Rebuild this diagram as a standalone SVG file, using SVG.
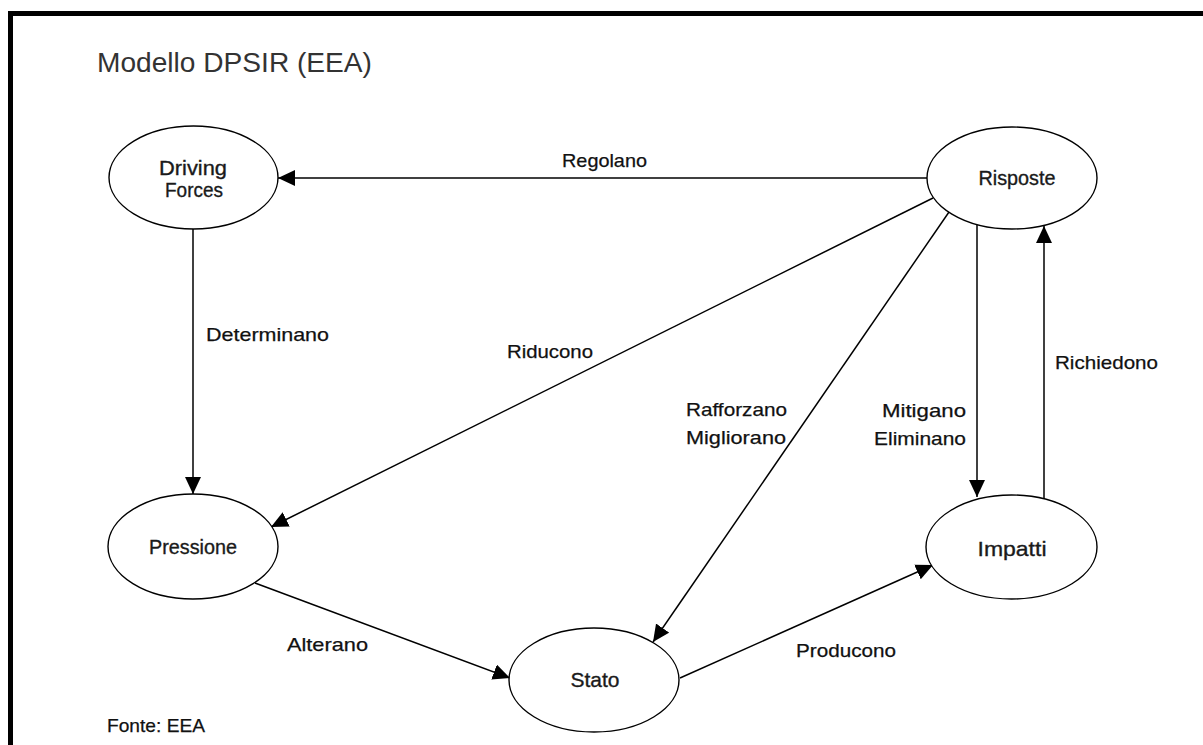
<svg xmlns="http://www.w3.org/2000/svg" width="1203" height="745" viewBox="0 0 1203 745">
<style>
.node ellipse{fill:#fff;stroke:#000;stroke-width:1.4}
.nl{font-family:"Liberation Sans",Arial,sans-serif;font-size:21px;fill:#1a1a1a;stroke:#1a1a1a;stroke-width:0.35;text-anchor:middle}
.el{font-family:"Liberation Sans",Arial,sans-serif;font-size:19px;fill:#111;stroke:#111;stroke-width:0.25}
.conn line{stroke:#000;stroke-width:1.5;marker-end:url(#ah)}
</style>
<defs>
<marker id="ah" markerUnits="userSpaceOnUse" markerWidth="19" markerHeight="17" refX="17" refY="8" orient="auto">
<path d="M0,0 L17,8 L0,16 Z" fill="#000"/>
</marker>
</defs>
<rect x="0" y="0" width="1203" height="745" fill="#fff"/>
<rect x="10.5" y="13.5" width="1300" height="800" fill="none" stroke="#000" stroke-width="5"/>
<text x="97" y="72" font-family="'Liberation Sans',Arial,sans-serif" font-size="28" fill="#333" textLength="275" lengthAdjust="spacingAndGlyphs">Modello DPSIR (EEA)</text>
<text class="el" x="107" y="732" textLength="98" lengthAdjust="spacingAndGlyphs">Fonte: EEA</text>

<g class="conn">
<line x1="927" y1="178" x2="278" y2="178"/>
<line x1="193" y1="229" x2="193" y2="494"/>
<line x1="933" y1="198" x2="271" y2="527"/>
<line x1="949" y1="212" x2="653" y2="642"/>
<line x1="977" y1="225" x2="977" y2="497"/>
<line x1="1044" y1="499" x2="1044" y2="226"/>
<line x1="255" y1="583" x2="510" y2="678"/>
<line x1="680" y1="678" x2="933" y2="565"/>
</g>

<g id="edge-labels">
<text class="el" x="562" y="167" textLength="85" lengthAdjust="spacingAndGlyphs">Regolano</text>
<text class="el" x="206" y="341" textLength="123" lengthAdjust="spacingAndGlyphs">Determinano</text>
<text class="el" x="507" y="358" textLength="86" lengthAdjust="spacingAndGlyphs">Riducono</text>
<text class="el" x="686" y="416" textLength="101" lengthAdjust="spacingAndGlyphs">Rafforzano</text>
<text class="el" x="686" y="444" textLength="100" lengthAdjust="spacingAndGlyphs">Migliorano</text>
<text class="el" x="882" y="417" textLength="84" lengthAdjust="spacingAndGlyphs">Mitigano</text>
<text class="el" x="874" y="445" textLength="92" lengthAdjust="spacingAndGlyphs">Eliminano</text>
<text class="el" x="1055" y="369" textLength="103" lengthAdjust="spacingAndGlyphs">Richiedono</text>
<text class="el" x="287" y="651" textLength="81" lengthAdjust="spacingAndGlyphs">Alterano</text>
<text class="el" x="796" y="657" textLength="100" lengthAdjust="spacingAndGlyphs">Producono</text>
</g>

<g id="driving-forces" class="node">
<ellipse cx="193.5" cy="177.5" rx="84.5" ry="51.5"/>
<text class="nl" x="193" y="175" textLength="68" lengthAdjust="spacingAndGlyphs">Driving</text>
<text class="nl" x="194" y="197" textLength="58" lengthAdjust="spacingAndGlyphs">Forces</text>
</g>
<g id="risposte" class="node">
<ellipse cx="1012" cy="178" rx="85" ry="51"/>
<text class="nl" x="1017" y="185" textLength="77" lengthAdjust="spacingAndGlyphs">Risposte</text>
</g>
<g id="pressione" class="node">
<ellipse cx="193" cy="546.5" rx="85" ry="52.5"/>
<text class="nl" x="193" y="554" textLength="88" lengthAdjust="spacingAndGlyphs">Pressione</text>
</g>
<g id="impatti" class="node">
<ellipse cx="1011.5" cy="547" rx="85.5" ry="52"/>
<text class="nl" x="1012" y="556" textLength="69" lengthAdjust="spacingAndGlyphs">Impatti</text>
</g>
<g id="stato" class="node">
<ellipse cx="594" cy="680" rx="85" ry="52"/>
<text class="nl" x="595" y="687" textLength="49" lengthAdjust="spacingAndGlyphs">Stato</text>
</g>
</svg>
